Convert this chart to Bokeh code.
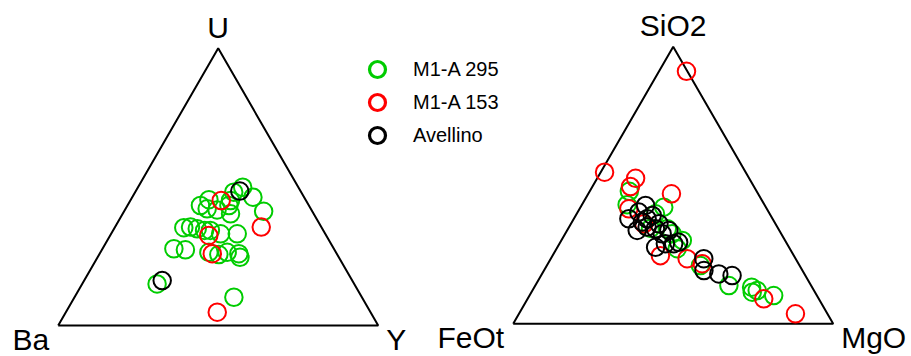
import math
from bokeh.plotting import figure
from bokeh.models import ColumnDataSource, Legend, LegendItem
from bokeh.core.properties import value
from bokeh.embed import file_html
from bokeh.resources import INLINE

# ---------------- data (ternary compositions, %) ----------------
series_names = ["M1-A 295", "M1-A 153", "Avellino"]
series_colors = ["#00cc00", "#ff0000", "#000000"]

# Left diagram: Ba (left corner), Y (right corner), U (top corner)
left_labels = ["Ba", "Y", "U"]
m295_ba = [17.4, 16.0, 15.2, 21.1, 23.6, 30.2, 32.4, 29.5, 25.0, 26.0, 27.5, 32.7, 43.1, 40.9,
           39.1, 37.1, 50.0, 46.6, 39.7, 37.0, 34.0, 30.6, 30.9, 61.6, 40.0, 35.3, 33.9]
m295_y = [32.7, 37.7, 43.6, 30.8, 31.3, 24.4, 25.5, 28.8, 31.7, 33.7, 39.4, 34.2, 21.6, 23.6,
          26.0, 28.6, 22.3, 26.1, 33.9, 37.4, 39.6, 43.5, 44.5, 23.4, 49.8, 30.4, 22.8]
m295_u = [49.9, 46.3, 41.2, 48.1, 45.1, 45.4, 42.1, 41.7, 43.3, 40.3, 33.1, 33.1, 35.3, 35.5,
          34.9, 34.3, 27.7, 27.3, 26.4, 25.6, 26.4, 25.9, 24.6, 15.0, 10.2, 34.3, 43.3]
m153_ba = [26.5, 18.8, 36.7, 38.9, 47.9]
m153_y = [28.4, 45.7, 30.8, 35.2, 47.3]
m153_u = [45.1, 35.5, 32.5, 25.9, 4.8]
ave_ba = [19.0, 59.4]
ave_y = [32.5, 24.4]
ave_u = [48.5, 16.2]

# Right diagram: FeOt (left corner), MgO (right corner), SiO2 (top corner)
right_labels = ["FeOt", "MgO", "SiO2"]
m295_feo = [39.8, 42.9, 31.9, 35.7, 34.1, 32.1, 35.2, 31.0, 25.7, 18.9, 17.75, 13.5, 19.6, 34.7, 39.9]
m295_mgo = [12.4, 14.1, 26.0, 24.6, 33.4, 37.8, 37.7, 48.0, 60.5, 67.9, 70.25, 76.3, 69.0, 31.0, 25.7]
m295_si = [47.8, 43.0, 42.1, 39.7, 32.5, 30.1, 27.1, 21.0, 13.8, 13.2, 12.0, 10.2, 11.4, 34.3, 34.4]
m153_feo = [0.3, 44.1, 35.5, 38.6, 27.1, 43.1, 41.1, 41.7, 33.9, 30.1, 17.2, 10.0]
m153_mgo = [8.6, 1.2, 12.0, 11.9, 26.0, 15.4, 22.8, 33.7, 42.6, 48.2, 73.8, 86.4]
m153_si = [91.1, 54.7, 52.5, 49.5, 46.9, 41.5, 36.1, 24.6, 23.5, 21.7, 9.0, 3.6]
ave_feo = [37.3, 40.6, 44.9, 37.0, 41.3, 44.4, 40.7, 36.4, 37.2, 34.5, 41.7, 38.0, 35.4, 33.6,
           28.7, 30.8, 26.75, 22.9, 39.2, 38.4]
ave_mgo = [20.0, 19.1, 17.2, 23.9, 22.0, 21.9, 24.4, 27.5, 30.3, 31.8, 30.7, 33.1, 35.7, 37.0,
           47.8, 50.0, 55.25, 59.7, 22.9, 27.3]
ave_si = [42.7, 40.3, 37.9, 39.1, 36.7, 33.7, 34.9, 36.1, 32.5, 33.7, 27.6, 28.9, 28.9, 29.4,
          23.5, 19.2, 18.0, 17.4, 37.9, 34.3]

# ---------------- geometry ----------------
S3 = math.sqrt(3) / 2
PX = 320.0            # pixels per unit triangle side
W, H = 911, 356
X0 = -57.7 / PX
Y1 = 325.0 / PX
DX_R = (512.7 - 57.7) / PX
DY_R = (325 - 323.3) / PX


def tern(left, right, top, dx=0.0, dy=0.0):
    xs, ys = [], []
    for a, b, c in zip(left, right, top):
        t = a + b + c
        xs.append(dx + (b + c / 2) / t)
        ys.append(dy + c * S3 / t)
    return xs, ys


p = figure(width=W, height=H, x_range=(X0, X0 + W / PX), y_range=(Y1 - H / PX, Y1),
           output_backend="svg", toolbar_location=None, min_border=0,
           x_axis_location=None, y_axis_location=None)
p.grid.visible = False
p.outline_line_color = None
p.background_fill_color = "white"

# triangle outlines
for dx, dy in [(0.0, 0.0), (DX_R, DY_R)]:
    p.line([dx, dx + 1, dx + 0.5, dx], [dy, dy, dy + S3, dy], line_color="black", line_width=2)

FONT = "Liberation Sans"
# corner labels
top_src = ColumnDataSource(dict(x=[0.5, DX_R + 0.5], y=[S3, DY_R + S3], t=[left_labels[2], right_labels[2]]))
p.text(x="x", y="y", text="t", source=top_src, text_align="center", text_baseline="alphabetic",
       y_offset=-21, text_font=value(FONT), text_font_size="30px", text_color="black")
bl_src = ColumnDataSource(dict(x=[0.0, DX_R], y=[0.0, DY_R], t=[left_labels[0], right_labels[0]]))
p.text(x="x", y="y", text="t", source=bl_src, text_align="right", text_baseline="alphabetic",
       x_offset=-9, y_offset=14, text_font=value(FONT), text_font_size="30px", text_color="black")
br_src = ColumnDataSource(dict(x=[1.0, DX_R + 1.0], y=[0.0, DY_R], t=[left_labels[1], right_labels[1]]))
p.text(x="x", y="y", text="t", source=br_src, text_align="left", text_baseline="alphabetic",
       x_offset=8, y_offset=14, text_font=value(FONT), text_font_size="30px", text_color="black")

left_sets = [(m295_ba, m295_y, m295_u), (m153_ba, m153_y, m153_u), (ave_ba, ave_y, ave_u)]
right_sets = [(m295_feo, m295_mgo, m295_si), (m153_feo, m153_mgo, m153_si), (ave_feo, ave_mgo, ave_si)]

NAN = float("nan")
legend_centers = [69, 102, 135]   # screen y of each legend entry's marker
for name, color, ls, rs, cy in zip(series_names, series_colors, left_sets, right_sets, legend_centers):
    lx, ly = tern(*ls)
    rx, ry = tern(*rs, dx=DX_R, dy=DY_R)
    p.scatter(lx, ly, marker="circle", size=17.5, fill_color=None, line_color=color, line_width=2)
    p.scatter(rx, ry, marker="circle", size=17.5, fill_color=None, line_color=color, line_width=2)
    # legend key: same marker, drawn bolder (not plotted in the data area)
    key = p.scatter([NAN], [NAN], marker="circle", fill_color=None, line_color=color, line_width=3.2)
    leg = Legend(items=[LegendItem(label=name, renderers=[key])],
                 location=(357, H - cy - 20), orientation="vertical",
                 glyph_width=40, glyph_height=40, label_height=40,
                 padding=0, margin=0, label_standoff=16,
                 border_line_color=None, background_fill_alpha=0,
                 label_text_font=FONT, label_text_font_size="20px", label_text_color="black")
    p.add_layout(leg)

open("out.html", "w").write(file_html(p, INLINE))
